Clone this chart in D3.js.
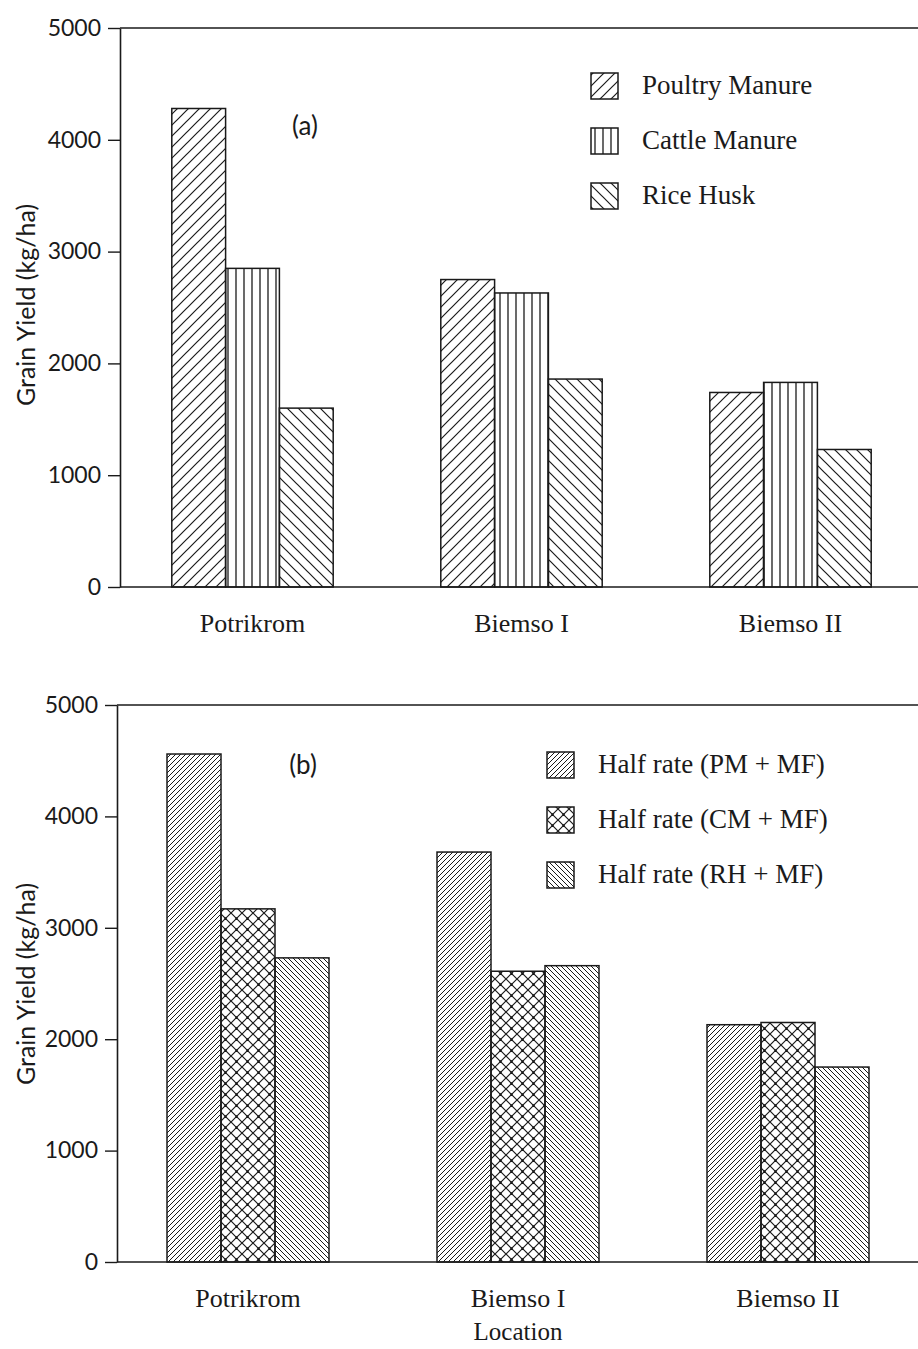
<!DOCTYPE html>
<html>
<head>
<meta charset="utf-8">
<script src="https://cdn.jsdelivr.net/npm/d3@7"></script>
<style>
  body { margin: 0; background: #fff; }
  svg { display: block; }
</style>
</head>
<body>
<svg id="chart" width="918" height="1349"></svg>
<script>
const locations = ["Potrikrom", "Biemso I", "Biemso II"];
const yTicks = [0, 1000, 2000, 3000, 4000, 5000];

const seriesA = ["Poultry Manure", "Cattle Manure", "Rice Husk"];
const valuesA = {
  "Poultry Manure": [4280, 2750, 1740],
  "Cattle Manure": [2850, 2630, 1830],
  "Rice Husk": [1600, 1860, 1230]
};

const seriesB = ["Half rate (PM + MF)", "Half rate (CM + MF)", "Half rate (RH + MF)"];
const valuesB = {
  "Half rate (PM + MF)": [4560, 3680, 2130],
  "Half rate (CM + MF)": [3170, 2610, 2150],
  "Half rate (RH + MF)": [2730, 2660, 1750]
};

const svg = d3.select("#chart");
const W = +svg.attr("width");
const ink = "#1a1a1a";
const sans = "Lato, 'Open Sans', sans-serif";
const serif = "'Liberation Serif', 'DejaVu Serif', serif";

const defs = svg.append("defs");

// diagonal hatch, dir 1 = "/", -1 = "\"
function hatch(id, p, dir, width) {
  const pat = defs.append("pattern")
    .attr("id", id)
    .attr("patternUnits", "userSpaceOnUse")
    .attr("width", p)
    .attr("height", p);
  const d = dir > 0
    ? `M-1,1 l2,-2 M0,${p} l${p},${-p} M${p - 1},${p + 1} l2,-2`
    : `M-1,${p - 1} l2,2 M0,0 l${p},${p} M${p - 1},-1 l2,2`;
  pat.append("path").attr("d", d).attr("stroke", ink).attr("stroke-width", width).attr("fill", "none");
}

hatch("pmA", 11, 1, 1.2);
hatch("rhA", 11, -1, 1.2);
hatch("pmB", 5, 1, 1);
hatch("rhB", 5, -1, 1);

const vert = defs.append("pattern")
  .attr("id", "cmA")
  .attr("patternUnits", "userSpaceOnUse")
  .attr("width", 8)
  .attr("height", 8);
vert.append("path").attr("d", "M4,0 V8").attr("stroke", ink).attr("stroke-width", 1.3);

const cross = defs.append("pattern")
  .attr("id", "cmB")
  .attr("patternUnits", "userSpaceOnUse")
  .attr("width", 11)
  .attr("height", 11);
cross.append("path")
  .attr("d", "M-1,1 l2,-2 M0,11 l11,-11 M10,12 l2,-2 M-1,10 l2,2 M0,0 l11,11 M10,-1 l2,2")
  .attr("stroke", ink).attr("stroke-width", 1.2).attr("fill", "none");
cross.append("circle").attr("cx", 5.5).attr("cy", 5.5).attr("r", 1.3).attr("fill", ink);

function drawPanel(cfg) {
  const y = d3.scaleLinear().domain([0, 5000]).range([cfg.bottom, cfg.top]);

  const x0 = d3.scaleBand()
    .domain(locations)
    .range(cfg.xRange)
    .paddingInner(0.4)
    .paddingOuter(0.2);

  const x1 = d3.scaleBand()
    .domain(cfg.series)
    .range([0, x0.bandwidth()]);

  const g = svg.append("g");

  // bars
  cfg.series.forEach((s, si) => {
    g.selectAll(null)
      .data(cfg.values[s])
      .enter()
      .append("rect")
      .attr("x", (d, i) => x0(locations[i]) + x1(s))
      .attr("y", d => y(d))
      .attr("width", x1.bandwidth())
      .attr("height", d => y(0) - y(d))
      .attr("fill", `url(#${cfg.fills[si]})`)
      .attr("stroke", ink)
      .attr("stroke-width", 1.5);
  });

  // frame lines
  g.append("line")
    .attr("x1", cfg.axisX).attr("x2", W)
    .attr("y1", y(5000)).attr("y2", y(5000))
    .attr("stroke", ink).attr("stroke-width", 1.6);
  g.append("line")
    .attr("x1", cfg.axisX).attr("x2", W)
    .attr("y1", y(0)).attr("y2", y(0))
    .attr("stroke", ink).attr("stroke-width", 1.6);

  const yAxis = g.append("g")
    .attr("transform", `translate(${cfg.axisX},0)`)
    .call(d3.axisLeft(y).tickValues(yTicks).tickSize(12).tickSizeOuter(0).tickPadding(7).tickFormat(d3.format("d")));
  yAxis.select(".domain").attr("stroke", ink).attr("stroke-width", 1.6);
  yAxis.selectAll(".tick line").attr("stroke", ink).attr("stroke-width", 1.4);
  yAxis.selectAll(".tick text")
    .attr("fill", ink)
    .style("font-family", sans)
    .style("font-size", "23px");

  g.append("text")
    .attr("transform", `translate(35,${cfg.titleY}) rotate(-90)`)
    .attr("text-anchor", "middle")
    .attr("fill", ink)
    .style("font-family", sans)
    .style("font-size", "25px")
    .text("Grain Yield (kg/ha)");

  g.append("text")
    .attr("x", cfg.tagX)
    .attr("y", cfg.tagY)
    .attr("text-anchor", "middle")
    .attr("fill", ink)
    .style("font-family", sans)
    .style("font-size", "26px")
    .text(cfg.tag);

  g.selectAll(null)
    .data(locations)
    .enter()
    .append("text")
    .attr("x", d => x0(d) + x0.bandwidth() / 2)
    .attr("y", cfg.catY)
    .attr("text-anchor", "middle")
    .attr("fill", ink)
    .style("font-family", serif)
    .style("font-size", "26px")
    .text(d => d);

  const legend = g.append("g")
    .attr("transform", `translate(${cfg.legendX},${cfg.legendY})`);

  legend.selectAll("rect")
    .data(cfg.series)
    .enter()
    .append("rect")
    .attr("x", 0)
    .attr("y", (d, i) => i * 55 - 13)
    .attr("width", 27)
    .attr("height", 26)
    .attr("fill", (d, i) => `url(#${cfg.fills[i]})`)
    .attr("stroke", ink)
    .attr("stroke-width", 1.5);

  legend.selectAll("text")
    .data(cfg.series)
    .enter()
    .append("text")
    .attr("x", cfg.legendTextDx)
    .attr("y", (d, i) => i * 55 + 8)
    .attr("fill", ink)
    .style("font-family", serif)
    .style("font-size", "27px")
    .text(d => d);

  return { x0, y };
}

drawPanel({
  top: 28, bottom: 587, axisX: 120, xRange: [118, 925],
  series: seriesA, values: valuesA, fills: ["pmA", "cmA", "rhA"],
  titleY: 305, tag: "(a)", tagX: 305, tagY: 135, catY: 632,
  legendX: 591, legendY: 86, legendTextDx: 51
});

const pb = drawPanel({
  top: 705, bottom: 1262, axisX: 117, xRange: [113, 923],
  series: seriesB, values: valuesB, fills: ["pmB", "cmB", "rhB"],
  titleY: 984, tag: "(b)", tagX: 303, tagY: 774, catY: 1307,
  legendX: 547, legendY: 765, legendTextDx: 51
});

svg.append("text")
  .attr("x", pb.x0("Biemso I") + pb.x0.bandwidth() / 2)
  .attr("y", 1340)
  .attr("text-anchor", "middle")
  .attr("fill", ink)
  .style("font-family", serif)
  .style("font-size", "25px")
  .text("Location");
</script>
</body>
</html>
